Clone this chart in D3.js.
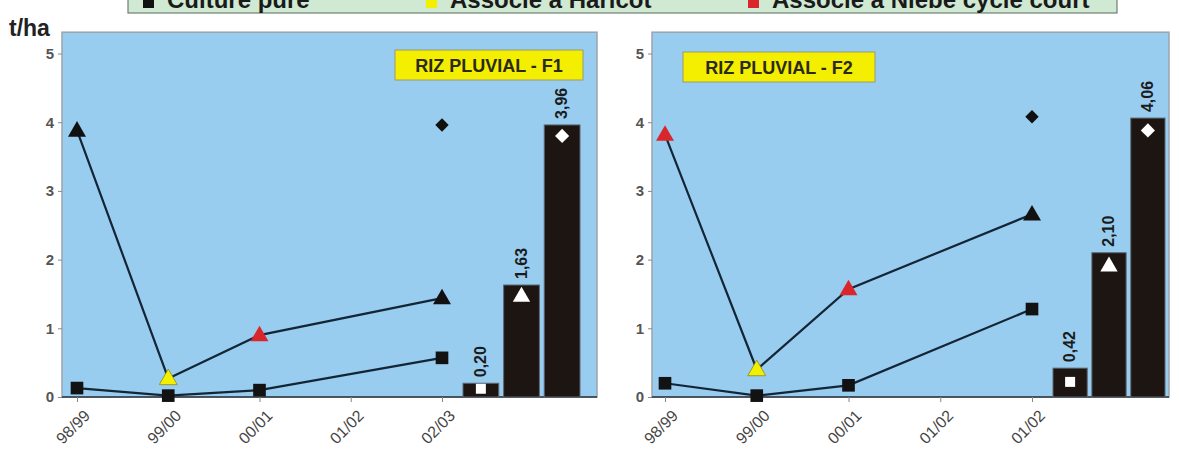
<html>
    <head>
        <meta charset="utf-8">
        <style>
            body { margin: 0; background: #ffffff; }
            svg { font-family: Arial, "Liberation Sans", sans-serif; }
        </style>
    </head>
    <body>
        <script src="https://d3js.org/d3.v7.min.js"></script>
        <div id="my_dataviz"></div>

        <script type='text/JavaScript'>

            // years on the x axis (F2 repeats 01/02 as in the source)
            var categoriesF1 = ["98/99", "99/00", "00/01", "01/02", "02/03"];
            var categoriesF2 = ["98/99", "99/00", "00/01", "01/02", "01/02"];

            // culture pure (squares)
            var pureF1 = [0.13, 0.02, 0.10, null, 0.57];
            var pureF2 = [0.20, 0.02, 0.17, null, 1.28];

            // associated crop (triangles) and which association it is
            var assocF1 = [3.88, 0.27, 0.90, null, 1.44];
            var assocF2 = [3.82, 0.40, 1.57, null, 2.66];
            var assocTypeF1 = ["aucune", "haricot", "niebe", null, "aucune"];
            var assocTypeF2 = ["niebe", "haricot", "niebe", null, "aucune"];

            // isolated diamond
            var diamondF1 = [null, null, null, null, 3.96];
            var diamondF2 = [null, null, null, null, 4.08];

            // bars with their inner white markers
            var barsF1 = [0.20, 1.63, 3.96];
            var barsF2 = [0.42, 2.10, 4.06];
            var barMarksF1 = [0.12, 1.46, 3.80];
            var barMarksF2 = [0.22, 1.90, 3.88];

            var yTicks = [0, 1, 2, 3, 4, 5];
            var legendLabels = ["Culture pure", "Associé à Haricot", "Associé à Niébé cycle court"];
            var titles = ["RIZ PLUVIAL - F1", "RIZ PLUVIAL - F2"];

            var panels = [
                {cats: categoriesF1, pure: pureF1, assoc: assocF1, types: assocTypeF1, diamond: diamondF1,
                 bars: barsF1, marks: barMarksF1, title: titles[0],
                 left: 62, right: 597, x0: 77, x1: 442, bx0: 463, bx1: 580, tx: 395, tw: 188, ty: 50},
                {cats: categoriesF2, pure: pureF2, assoc: assocF2, types: assocTypeF2, diamond: diamondF2,
                 bars: barsF2, marks: barMarksF2, title: titles[1],
                 left: 652, right: 1169, x0: 665, x1: 1032, bx0: 1053, bx1: 1165, tx: 683, tw: 192, ty: 52}
            ];

            var width = 1179, height = 455;

            var svg = d3.select("#my_dataviz")
                .append("svg")
                    .attr("width", width)
                    .attr("height", height);

            var typeColor = d3.scaleOrdinal()
                .domain(["aucune", "haricot", "niebe"])
                .range(["#111111", "#f2ef00", "#d8262a"]);

            var y = d3.scaleLinear()
                .domain([0, 5])
                .range([397, 53.5]);

            var comma = function(v) { return d3.format(".2f")(v).replace(".", ","); };

            var sym = function(type, size) { return d3.symbol().type(type).size(size)(); };

            // legend strip at top (cropped in the source image)
            var legend = svg.append("g");
            legend.append("rect")
                .attr("x", 128).attr("y", -12)
                .attr("width", 989).attr("height", 25)
                .attr("fill", "#cfe9d3")
                .attr("stroke", "#6f7f72")
                .attr("stroke-width", 1.2);
            var legendX = [143, 426, 748];
            var legendColors = ["#111111", "#f2ef00", "#d8262a"];
            legendLabels.forEach(function(l, i) {
                legend.append("rect")
                    .attr("x", legendX[i]).attr("y", -3)
                    .attr("width", 11).attr("height", 11)
                    .attr("fill", legendColors[i]);
                legend.append("text")
                    .attr("x", legendX[i] + 24).attr("y", 8)
                    .attr("font-size", 24).attr("font-weight", "bold")
                    .attr("fill", "#1a1a1a")
                    .text(l);
            });

            svg.append("text")
                .attr("x", 9).attr("y", 36)
                .attr("font-size", 23).attr("font-weight", "bold")
                .attr("fill", "#222")
                .text("t/ha");

            panels.forEach(function(p) {
                var g = svg.append("g");

                var x = d3.scaleLinear()
                    .domain([0, 4])
                    .range([p.x0, p.x1]);

                var xb = d3.scaleBand()
                    .domain([0, 1, 2])
                    .range([p.bx0, p.bx1])
                    .paddingInner(0.12);

                // plot background
                g.append("rect")
                    .attr("x", p.left).attr("y", y(5.31))
                    .attr("width", p.right - p.left)
                    .attr("height", y(0) - y(5.31))
                    .attr("fill", "#98cdf0")
                    .attr("stroke", "#9aa4ad")
                    .attr("stroke-width", 1.5);

                // Y axis
                var ya = g.append("g")
                    .attr("transform", "translate(" + p.left + ",0)")
                    .call(d3.axisLeft(y).tickValues(yTicks).tickFormat(d3.format("d"))
                        .tickSize(4).tickPadding(4));
                ya.select(".domain").remove();
                ya.selectAll("line").attr("stroke", "#888");
                ya.selectAll("text")
                    .attr("font-size", 15).attr("font-weight", "bold")
                    .attr("fill", "#555");

                // X axis
                var xa = g.append("g")
                    .attr("transform", "translate(0," + y(0) + ")")
                    .call(d3.axisBottom(x).tickValues([0, 1, 2, 3, 4])
                        .tickFormat(function(i) { return p.cats[i]; })
                        .tickSize(5));
                xa.select(".domain")
                    .attr("d", "M" + p.left + ",0H" + p.right)
                    .attr("stroke", "#2a3440").attr("stroke-width", 1.5);
                xa.selectAll("line").attr("stroke", "#888");
                xa.selectAll("text")
                    .attr("font-size", 16)
                    .attr("fill", "#444")
                    .attr("text-anchor", "end")
                    .attr("dy", "0.35em")
                    .attr("transform", "translate(4,10) rotate(-45)");

                // bars
                g.selectAll(".bar")
                    .data(p.bars)
                    .enter().append("rect")
                    .attr("x", function(d, i) { return xb(i); })
                    .attr("y", function(d) { return y(d); })
                    .attr("width", xb.bandwidth())
                    .attr("height", function(d) { return y(0) - y(d); })
                    .attr("fill", "#1c1512")
                    .attr("stroke", "#5c6670")
                    .attr("stroke-width", 1);

                // bar value labels
                g.selectAll(".blab")
                    .data(p.bars)
                    .enter().append("text")
                    .attr("transform", function(d, i) {
                        return "translate(" + (xb(i) + xb.bandwidth() / 2 + 5) + "," + (y(d) - 6) + ") rotate(-90)";
                    })
                    .attr("font-size", 16).attr("font-weight", "bold")
                    .attr("fill", "#1b1b1b")
                    .text(function(d) { return comma(d); });

                // white markers inside bars (diamond = square turned 45deg)
                var markTypes = [d3.symbolSquare, d3.symbolTriangle, d3.symbolSquare];
                var markRot = [0, 0, 45];
                g.selectAll(".bmark")
                    .data(p.marks)
                    .enter().append("path")
                    .attr("d", function(d, i) { return sym(markTypes[i], i === 1 ? 130 : 100); })
                    .attr("transform", function(d, i) {
                        return "translate(" + (xb(i) + xb.bandwidth() / 2) + "," + y(d) + ") rotate(" + markRot[i] + ")";
                    })
                    .attr("fill", "#ffffff");

                // lines
                var idx = function(arr) {
                    return arr.map(function(v, i) { return {v: v, i: i}; })
                              .filter(function(d) { return d.v !== null; });
                };
                var line = d3.line()
                    .x(function(d) { return x(d.i); })
                    .y(function(d) { return y(d.v); });

                [p.pure, p.assoc].forEach(function(s) {
                    g.append("path")
                        .attr("d", line(idx(s)))
                        .attr("fill", "none")
                        .attr("stroke", "#142536")
                        .attr("stroke-width", 2.2);
                });

                // squares
                g.selectAll(".sq")
                    .data(idx(p.pure))
                    .enter().append("path")
                    .attr("d", sym(d3.symbolSquare, 160))
                    .attr("transform", function(d) { return "translate(" + x(d.i) + "," + y(d.v) + ")"; })
                    .attr("fill", "#121212");

                // triangles
                g.selectAll(".tri")
                    .data(idx(p.assoc))
                    .enter().append("path")
                    .attr("d", sym(d3.symbolTriangle, 140))
                    .attr("transform", function(d) { return "translate(" + x(d.i) + "," + (y(d.v) + 1) + ")"; })
                    .attr("fill", function(d) { return typeColor(p.types[d.i]); })
                    .attr("stroke", function(d) { return p.types[d.i] === "haricot" ? "#8a8a20" : "none"; })
                    .attr("stroke-width", 0.8);

                // diamond
                g.selectAll(".dia")
                    .data(idx(p.diamond))
                    .enter().append("path")
                    .attr("d", sym(d3.symbolSquare, 90))
                    .attr("transform", function(d) { return "translate(" + x(d.i) + "," + y(d.v) + ") rotate(45)"; })
                    .attr("fill", "#111111");

                // title box
                g.append("rect")
                    .attr("x", p.tx).attr("y", p.ty)
                    .attr("width", p.tw).attr("height", 30)
                    .attr("fill", "#f4ee00")
                    .attr("stroke", "#9a9a70")
                    .attr("stroke-width", 1);
                g.append("text")
                    .attr("x", p.tx + p.tw / 2).attr("y", p.ty + 22)
                    .attr("text-anchor", "middle")
                    .attr("font-size", 18).attr("font-weight", "bold")
                    .attr("fill", "#2a2a18")
                    .text(p.title);
            });
        </script>
    </body>
</html>
